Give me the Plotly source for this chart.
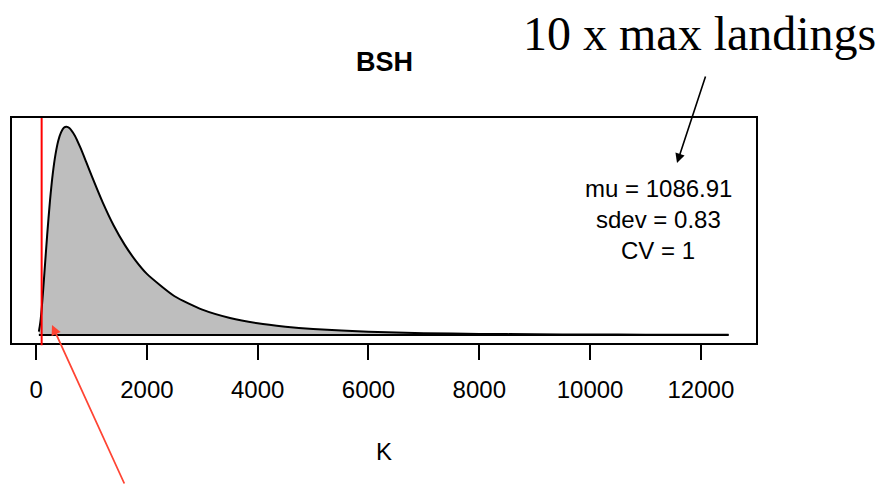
import plotly.graph_objects as go

# Density curve of K
K_values = [50, 75, 100, 125, 150, 200, 250, 300, 350, 400, 450, 500, 550, 600, 700, 800,
            900, 1000, 1200, 1400, 1600, 1800, 2000, 2500, 3000, 3500, 4000, 4500, 5000,
            6000, 7000, 8000, 9000, 10000, 11000, 12000, 12500]
density = [9.9e-6, 3.6e-5, 7.7e-5, 1.29e-4, 1.86e-4, 3.00e-4, 4.01e-4, 4.82e-4, 5.41e-4,
           5.82e-4, 6.07e-4, 6.21e-4, 6.24e-4, 6.20e-4, 5.97e-4, 5.61e-4, 5.20e-4, 4.78e-4,
           3.98e-4, 3.28e-4, 2.70e-4, 2.22e-4, 1.83e-4, 1.16e-4, 7.6e-5, 5.1e-5, 3.5e-5,
           2.5e-5, 1.8e-5, 9.6e-6, 5.5e-6, 3.3e-6, 2.1e-6, 1.4e-6, 9.0e-7, 6.1e-7, 5.0e-7]

tick_vals = [0, 2000, 4000, 6000, 8000, 10000, 12000]
tick_text = ["0", "2000", "4000", "6000", "8000", "10000", "12000"]

title_text = "BSH"
xlabel = "K"
stats_lines = ["mu = 1086.91", "sdev = 0.83", "CV = 1"]
note_text = "10 x max landings"
max_landings_line = 100

fig = go.Figure()

# filled density
fig.add_trace(go.Scatter(
    x=K_values, y=density, mode="lines", fill="tozeroy",
    fillcolor="#BEBEBE",
    line=dict(color="black", width=2, shape="spline", smoothing=0.6),
    hoverinfo="skip", showlegend=False,
))
# polygon base edge
fig.add_trace(go.Scatter(
    x=[K_values[0], K_values[-1]], y=[0, 0], mode="lines",
    line=dict(color="black", width=2),
    hoverinfo="skip", showlegend=False,
))

fig.add_shape(type="line", xref="x", yref="paper",
              x0=max_landings_line, x1=max_landings_line, y0=-0.01, y1=1.0,
              line=dict(color="#FF0000", width=2))

arial = "Arial, Liberation Sans, Helvetica, sans-serif"

annotations = [
    dict(text="<b>%s</b>" % title_text, xref="paper", yref="paper", x=0.5, y=1.25,
         xanchor="center", yanchor="middle", showarrow=False,
         font=dict(family=arial, size=27, color="black")),
    dict(text=xlabel, xref="paper", yref="paper", x=0.5, y=-0.484,
         xanchor="center", yanchor="middle", showarrow=False,
         font=dict(family=arial, size=24, color="black")),
    dict(text=note_text, xref="paper", yref="paper", x=(699 - 12) / 744, y=(343 - 33) / 225,
         xanchor="center", yanchor="middle", showarrow=False,
         font=dict(family="Liberation Serif, Times New Roman, serif", size=48, color="black")),
    # black arrow
    dict(text="", xref="paper", yref="paper", x=(677 - 12) / 744, y=(343 - 163) / 225,
         ax=29, ay=-88, showarrow=True, arrowhead=2, arrowsize=1.2, arrowwidth=1.6,
         arrowcolor="black"),
    # red arrow
    dict(text="", xref="paper", yref="paper", x=(52 - 12) / 744, y=(343 - 325) / 225,
         ax=73, ay=160, showarrow=True, arrowhead=2, arrowsize=1.1, arrowwidth=1.8,
         arrowcolor="#FF4433"),
]
for i, line in enumerate(stats_lines):
    annotations.append(dict(text=line, xref="paper", yref="paper",
                            x=(658 - 12) / 744, y=(343 - (188 + 31 * i)) / 225,
                            xanchor="center", yanchor="middle", showarrow=False,
                            font=dict(family=arial, size=24, color="black")))

fig.update_layout(
    width=890, height=487,
    margin=dict(l=12, r=134, t=118, b=144),
    paper_bgcolor="white", plot_bgcolor="white",
    showlegend=False,
    annotations=annotations,
    xaxis=dict(range=[-435, 12995], tickmode="array", tickvals=tick_vals, ticktext=tick_text,
               ticks="outside", ticklen=15, tickwidth=2, tickcolor="black",
               ticklabelstandoff=9,
               showline=True, mirror=True, linecolor="black", linewidth=2,
               showgrid=False, zeroline=False,
               tickfont=dict(family=arial, size=24, color="black")),
    yaxis=dict(range=[-2.4e-5, 6.5e-4], showticklabels=False, ticks="",
               showline=True, mirror=True, linecolor="black", linewidth=2,
               showgrid=False, zeroline=False),
)

fig.write_html("out.html")
